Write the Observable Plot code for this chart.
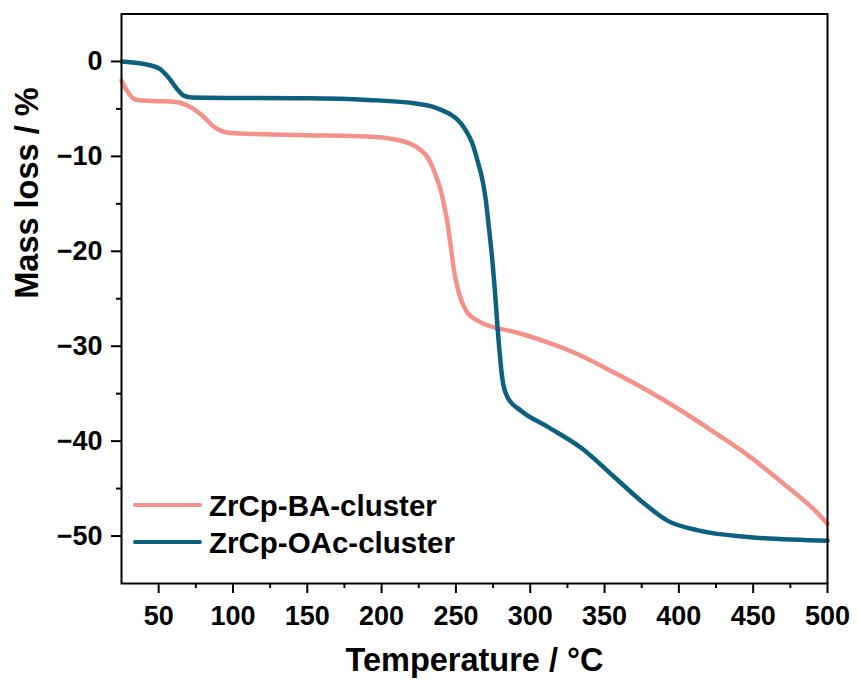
<!DOCTYPE html>
<html><head><meta charset="utf-8">
<script src="https://cdn.jsdelivr.net/npm/d3@7"></script>
<script src="https://cdn.jsdelivr.net/npm/@observablehq/plot@0.6"></script>
<style>
body{margin:0;background:#fff;}
#wrap{position:relative;width:857px;height:689px;font-family:"Liberation Sans",Arial,sans-serif;font-weight:bold;}
#legend{position:absolute;left:133px;top:486.5px;}
.row{display:flex;align-items:center;height:37px;font-size:29.5px;line-height:37px;color:#000;white-space:nowrap;}
.sw{width:69px;height:4px;border-radius:2px;margin-right:7px;}
</style></head><body><div id="wrap"></div>
<script>
const seriesNames = ["ZrCp-BA-cluster", "ZrCp-OAc-cluster"];
const seriesColors = ["#F4918A", "#0D607F"];
const xTitle = "Temperature / °C";
const yTitle = "Mass loss / %";

const baTemp = [25, 28.7, 34.3, 43.3, 61.3, 70.2, 79.3, 88.2, 97.2, 121.9, 150, 190.5, 208.4, 219.6, 226, 230.5, 234.5, 238, 240, 242.1, 244.4, 246.6, 248.8, 251, 253.5, 257, 264.6, 278, 289.3, 311.8, 334.2, 356.7, 379.2, 401.6, 424.1, 446.6, 469, 491.5, 500];
const baMass = [-2.0, -3.1, -4.0, -4.15, -4.26, -4.7, -5.7, -7.0, -7.5, -7.67, -7.77, -7.9, -8.2, -8.7, -9.3, -10.0, -11.2, -12.7, -13.7, -15.2, -17.1, -19.6, -22.1, -23.8, -25.1, -26.3, -27.3, -28.1, -28.5, -29.6, -31.0, -32.8, -34.7, -36.8, -39.1, -41.5, -44.3, -47.3, -48.7];

const oacTemp = [25, 43.3, 51, 56.7, 62.4, 66.9, 72.5, 100, 150, 190.5, 224, 233.1, 240, 246.6, 251.5, 255.6, 258.6, 261.2, 264.6, 268, 270.2, 271.7, 274.7, 276.3, 278, 281.4, 284.8, 293.8, 311.8, 334.2, 356.7, 374.6, 392.6, 412.9, 446.6, 500];
const oacMass = [0, -0.37, -0.8, -1.7, -2.9, -3.6, -3.8, -3.85, -3.88, -4.05, -4.45, -4.7, -5.1, -5.6, -6.2, -7.0, -7.8, -8.7, -10.5, -12.6, -14.7, -16.8, -21.3, -24.3, -28.0, -33.6, -35.4, -36.8, -38.5, -40.7, -43.8, -46.3, -48.4, -49.4, -50.1, -50.5];

const xMajor = [50, 100, 150, 200, 250, 300, 350, 400, 450, 500];
const xMinor = [75, 125, 175, 225, 275, 325, 375, 425, 475];
const yMajor = [-50, -40, -30, -20, -10, 0];
const yMinor = [-45, -35, -25, -15, -5];

const data = [
  ...baTemp.map((t, i) => ({series: seriesNames[0], t, m: baMass[i]})),
  ...oacTemp.map((t, i) => ({series: seriesNames[1], t, m: oacMass[i]}))
];

const chart = Plot.plot({
  width: 857, height: 689,
  marginLeft: 121, marginRight: 30, marginTop: 13.5, marginBottom: 106,
  x: {domain: [25, 500]},
  y: {domain: [-55, 5]},
  color: {domain: seriesNames, range: seriesColors},
  style: {fontFamily: "Liberation Sans, Arial, sans-serif", fontWeight: "bold", background: "white", color: "black"},
  marks: [
    Plot.axisX({ticks: xMajor, tickSize: 10, tickPadding: 12, fontSize: 27, fontWeight: "bold", label: null, strokeWidth: 2, tickFormat: d => String(d)}),
    Plot.axisX({ticks: xMinor, tickSize: 5, text: null, label: null, strokeWidth: 2}),
    Plot.axisY({ticks: yMajor, tickSize: 10, tickPadding: 9, fontSize: 27, fontWeight: "bold", label: null, strokeWidth: 2}),
    Plot.axisY({ticks: yMinor, tickSize: 5, text: null, label: null, strokeWidth: 2}),
    Plot.line(data, {x: "t", y: "m", stroke: "series", z: "series", strokeWidth: 4.5, curve: "monotone-x"}),
    Plot.frame({stroke: "black", strokeWidth: 2}),
    Plot.text([xTitle], {frameAnchor: "bottom", dy: 87, fontSize: 32.5, fontWeight: "bold", text: d => d, fill: "black"}),
    Plot.text([yTitle], {frameAnchor: "left", dx: -94, rotate: -90, fontSize: 32.5, fontWeight: "bold", text: d => d, fill: "black"})
  ]
});

const wrap = document.getElementById("wrap");
wrap.appendChild(chart);
const legend = document.createElement("div");
legend.id = "legend";
seriesNames.forEach((name, i) => {
  const row = document.createElement("div");
  row.className = "row";
  const sw = document.createElement("span");
  sw.className = "sw";
  sw.style.background = seriesColors[i];
  const tx = document.createElement("span");
  tx.textContent = name;
  row.appendChild(sw);
  row.appendChild(tx);
  legend.appendChild(row);
});
wrap.appendChild(legend);
</script>
</body></html>
